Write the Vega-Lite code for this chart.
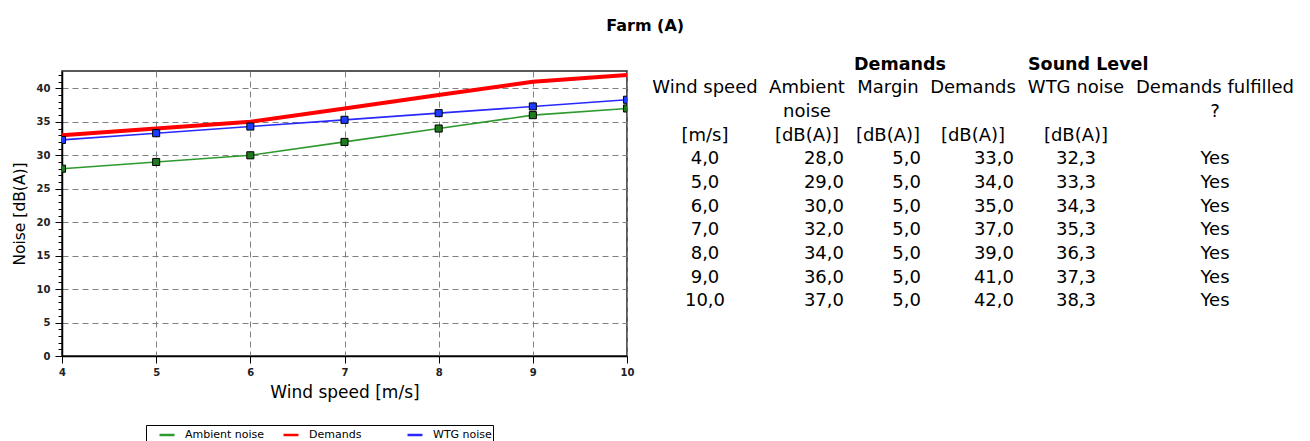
{
  "$schema": "https://vega.github.io/schema/vega-lite/v6.json",
  "padding": {"left": 11, "top": 17, "right": 5, "bottom": 0},
  "title": {"text": "Farm (A)", "font": "DejaVu Sans", "fontSize": 16, "fontWeight": "bold", "color": "black", "anchor": "middle", "offset": 22, "dx": -13},
  "config": {
    "locale": {"number": {"decimal": ",", "thousands": ".", "grouping": [3], "currency": ["", " €"]}},
    "view": {"stroke": null}
  },
  "datasets": {
    "noise": [
      {"wind": 4, "series": "Ambient noise", "noise": 28},
      {"wind": 5, "series": "Ambient noise", "noise": 29},
      {"wind": 6, "series": "Ambient noise", "noise": 30},
      {"wind": 7, "series": "Ambient noise", "noise": 32},
      {"wind": 8, "series": "Ambient noise", "noise": 34},
      {"wind": 9, "series": "Ambient noise", "noise": 36},
      {"wind": 10, "series": "Ambient noise", "noise": 37},
      {"wind": 4, "series": "Demands", "noise": 33},
      {"wind": 5, "series": "Demands", "noise": 34},
      {"wind": 6, "series": "Demands", "noise": 35},
      {"wind": 7, "series": "Demands", "noise": 37},
      {"wind": 8, "series": "Demands", "noise": 39},
      {"wind": 9, "series": "Demands", "noise": 41},
      {"wind": 10, "series": "Demands", "noise": 42},
      {"wind": 4, "series": "WTG noise", "noise": 32.3},
      {"wind": 5, "series": "WTG noise", "noise": 33.3},
      {"wind": 6, "series": "WTG noise", "noise": 34.3},
      {"wind": 7, "series": "WTG noise", "noise": 35.3},
      {"wind": 8, "series": "WTG noise", "noise": 36.3},
      {"wind": 9, "series": "WTG noise", "noise": 37.3},
      {"wind": 10, "series": "WTG noise", "noise": 38.3}
    ],
    "rows": [
      {"ws": 4, "amb": 28, "margin": 5, "dem": 33, "wtg": 32.3, "ok": "Yes"},
      {"ws": 5, "amb": 29, "margin": 5, "dem": 34, "wtg": 33.3, "ok": "Yes"},
      {"ws": 6, "amb": 30, "margin": 5, "dem": 35, "wtg": 34.3, "ok": "Yes"},
      {"ws": 7, "amb": 32, "margin": 5, "dem": 37, "wtg": 35.3, "ok": "Yes"},
      {"ws": 8, "amb": 34, "margin": 5, "dem": 39, "wtg": 36.3, "ok": "Yes"},
      {"ws": 9, "amb": 36, "margin": 5, "dem": 41, "wtg": 37.3, "ok": "Yes"},
      {"ws": 10, "amb": 37, "margin": 5, "dem": 42, "wtg": 38.3, "ok": "Yes"}
    ],
    "headers": [
      {"col": "c1", "row": "h1", "text": "Wind speed"},
      {"col": "c1", "row": "u", "text": "[m/s]"},
      {"col": "c2", "row": "h1", "text": "Ambient"},
      {"col": "c2", "row": "h2", "text": "noise"},
      {"col": "c2", "row": "u", "text": "[dB(A)]"},
      {"col": "c3", "row": "g", "text": "Demands"},
      {"col": "c3", "row": "h1", "text": "Margin"},
      {"col": "c3", "row": "u", "text": "[dB(A)]"},
      {"col": "c4", "row": "h1", "text": "Demands"},
      {"col": "c4", "row": "u", "text": "[dB(A)]"},
      {"col": "c5", "row": "g", "text": "Sound Level"},
      {"col": "c5", "row": "h1", "text": "WTG noise"},
      {"col": "c5", "row": "u", "text": "[dB(A)]"},
      {"col": "c6", "row": "h1", "text": "Demands fulfilled"},
      {"col": "c6", "row": "h2", "text": "?"}
    ]
  },
  "spacing": 17,
  "hconcat": [
    {
      "width": 565,
      "height": 285,
      "data": {"name": "noise"},
      "view": {"stroke": "#222222", "strokeWidth": 1.5},
      "encoding": {
        "x": {
          "field": "wind", "type": "quantitative",
          "scale": {"domain": [4, 10], "nice": false, "zero": false},
          "axis": {
            "values": [4, 4.25, 4.5, 4.75, 5, 5.25, 5.5, 5.75, 6, 6.25, 6.5, 6.75, 7, 7.25, 7.5, 7.75, 8, 8.25, 8.5, 8.75, 9, 9.25, 9.5, 9.75, 10],
            "format": "d",
            "title": "Wind speed [m/s]", "titleFont": "DejaVu Sans", "titleFontSize": 17, "titleFontWeight": "normal", "titleColor": "black", "titlePadding": 7,
            "labelFont": "DejaVu Sans", "labelFontSize": 10, "labelFontWeight": "bold", "labelColor": "#222222",
            "labelExpr": "datum.value % 1 === 0 ? datum.label : ''", "labelFlush": false, "labelOverlap": false, "labelPadding": 4,
            "tickSize": {"condition": {"test": "datum.value % 1 === 0", "value": 7}, "value": 4},
            "tickColor": "black",
            "grid": true,
            "gridOpacity": {"condition": {"test": "datum.value % 1 === 0", "value": 1}, "value": 0},
            "gridDash": [6, 4], "gridColor": "#808080",
            "domainColor": "black", "domainWidth": 1.5
          }
        },
        "y": {
          "field": "noise", "type": "quantitative",
          "scale": {"domain": [0, 42.6], "nice": false},
          "axis": {
            "values": [0, 1, 2, 3, 4, 5, 6, 7, 8, 9, 10, 11, 12, 13, 14, 15, 16, 17, 18, 19, 20, 21, 22, 23, 24, 25, 26, 27, 28, 29, 30, 31, 32, 33, 34, 35, 36, 37, 38, 39, 40, 41, 42],
            "format": "d",
            "title": "Noise [dB(A)]", "titleFont": "DejaVu Sans", "titleFontSize": 15.5, "titleFontWeight": "normal", "titleColor": "black", "titlePadding": 9,
            "labelFont": "DejaVu Sans", "labelFontSize": 10, "labelFontWeight": "bold", "labelColor": "#222222",
            "labelExpr": "datum.value % 5 === 0 ? datum.label : ''", "labelFlush": false, "labelOverlap": false, "labelPadding": 5,
            "tickSize": {"condition": {"test": "datum.value % 5 === 0", "value": 7}, "value": 4},
            "tickColor": "black",
            "grid": true,
            "gridOpacity": {"condition": {"test": "datum.value % 5 === 0", "value": 1}, "value": 0},
            "gridDash": [6, 4], "gridColor": "#808080",
            "domainColor": "black", "domainWidth": 1.5
          }
        }
      },
      "layer": [
        {
          "transform": [{"filter": "datum.series === 'Demands'"}],
          "mark": {"type": "line", "strokeWidth": 4, "strokeJoin": "round"},
          "encoding": {
            "color": {
              "field": "series", "type": "nominal",
              "scale": {"domain": ["Ambient noise", "Demands", "WTG noise"], "range": ["#2e9a2e", "#ff0000", "#2828ff"]},
              "legend": {
                "title": null, "orient": "none", "legendX": 84, "legendY": 354, "direction": "horizontal", "columns": 3,
                "gridAlign": "all", "columnPadding": 6, "strokeColor": "black", "padding": 1, "symbolOffset": 11,
                "labelFont": "DejaVu Sans", "labelFontSize": 11, "labelColor": "black", "labelOffset": 9,
                "symbolType": "stroke", "symbolSize": 225, "symbolStrokeWidth": 2.5
              }
            }
          }
        },
        {
          "transform": [{"filter": "datum.series !== 'Demands'"}],
          "mark": {"type": "line", "strokeWidth": 1.6, "strokeJoin": "round"},
          "encoding": {
            "color": {"field": "series", "type": "nominal"}
          }
        },
        {
          "transform": [{"filter": "datum.series !== 'Demands'"}],
          "mark": {"type": "point", "shape": "square", "filled": true, "stroke": "black", "strokeWidth": 1, "size": 50, "opacity": 1, "clip": true},
          "encoding": {
            "fill": {
              "field": "series", "type": "nominal",
              "scale": {"domain": ["Ambient noise", "WTG noise"], "range": ["#1f7a1f", "#1e3cff"]},
              "legend": null
            }
          }
        }
      ]
    },
    {
      "spacing": 0,
      "bounds": "flush",
      "hconcat": [
        {
          "width": 104, "height": 260,
          "layer": [
            {
              "data": {"name": "headers"},
              "transform": [{"filter": "datum.col === 'c1' && datum.row !== 'g'"}],
              "mark": {"type": "text", "font": "DejaVu Sans", "fontSize": 18, "color": "black", "dy": -18},
              "encoding": {"y": {"field": "row", "type": "ordinal", "scale": {"domain": ["g", "h1", "h2", "u", 4, 5, 6, 7, 8, 9, 10]}, "axis": null}, "text": {"field": "text"}}
            },
            {
              "data": {"name": "rows"},
              "mark": {"type": "text", "font": "DejaVu Sans", "fontSize": 18, "color": "black", "dy": -18},
              "encoding": {"y": {"field": "ws", "type": "ordinal", "scale": {"domain": ["g", "h1", "h2", "u", 4, 5, 6, 7, 8, 9, 10]}, "axis": null}, "text": {"field": "ws", "format": ".1f"}}
            }
          ]
        },
        {
          "width": 100, "height": 260,
          "layer": [
            {
              "data": {"name": "headers"},
              "transform": [{"filter": "datum.col === 'c2' && datum.row !== 'g'"}],
              "mark": {"type": "text", "font": "DejaVu Sans", "fontSize": 18, "color": "black", "dy": -18},
              "encoding": {"y": {"field": "row", "type": "ordinal", "scale": {"domain": ["g", "h1", "h2", "u", 4, 5, 6, 7, 8, 9, 10]}, "axis": null}, "text": {"field": "text"}}
            },
            {
              "data": {"name": "rows"},
              "mark": {"type": "text", "font": "DejaVu Sans", "fontSize": 18, "color": "black", "align": "right", "dx": 37, "dy": -18},
              "encoding": {"y": {"field": "ws", "type": "ordinal", "scale": {"domain": ["g", "h1", "h2", "u", 4, 5, 6, 7, 8, 9, 10]}, "axis": null}, "text": {"field": "amb", "format": ".1f"}}
            }
          ]
        },
        {
          "width": 62, "height": 260,
          "layer": [
            {
              "data": {"name": "headers"},
              "transform": [{"filter": "datum.col === 'c3' && datum.row === 'g'"}],
              "mark": {"type": "text", "font": "DejaVu Sans", "fontSize": 17.5, "fontWeight": "bold", "color": "black", "align": "left", "dx": -34, "dy": -18},
              "encoding": {"y": {"field": "row", "type": "ordinal", "scale": {"domain": ["g", "h1", "h2", "u", 4, 5, 6, 7, 8, 9, 10]}, "axis": null}, "text": {"field": "text"}}
            },
            {
              "data": {"name": "headers"},
              "transform": [{"filter": "datum.col === 'c3' && datum.row !== 'g'"}],
              "mark": {"type": "text", "font": "DejaVu Sans", "fontSize": 18, "color": "black", "dy": -18},
              "encoding": {"y": {"field": "row", "type": "ordinal", "scale": {"domain": ["g", "h1", "h2", "u", 4, 5, 6, 7, 8, 9, 10]}, "axis": null}, "text": {"field": "text"}}
            },
            {
              "data": {"name": "rows"},
              "mark": {"type": "text", "font": "DejaVu Sans", "fontSize": 18, "color": "black", "align": "right", "dx": 33, "dy": -18},
              "encoding": {"y": {"field": "ws", "type": "ordinal", "scale": {"domain": ["g", "h1", "h2", "u", 4, 5, 6, 7, 8, 9, 10]}, "axis": null}, "text": {"field": "margin", "format": ".1f"}}
            }
          ]
        },
        {
          "width": 108, "height": 260,
          "layer": [
            {
              "data": {"name": "headers"},
              "transform": [{"filter": "datum.col === 'c4' && datum.row !== 'g'"}],
              "mark": {"type": "text", "font": "DejaVu Sans", "fontSize": 18, "color": "black", "dy": -18},
              "encoding": {"y": {"field": "row", "type": "ordinal", "scale": {"domain": ["g", "h1", "h2", "u", 4, 5, 6, 7, 8, 9, 10]}, "axis": null}, "text": {"field": "text"}}
            },
            {
              "data": {"name": "rows"},
              "mark": {"type": "text", "font": "DejaVu Sans", "fontSize": 18, "color": "black", "align": "right", "dx": 41, "dy": -18},
              "encoding": {"y": {"field": "ws", "type": "ordinal", "scale": {"domain": ["g", "h1", "h2", "u", 4, 5, 6, 7, 8, 9, 10]}, "axis": null}, "text": {"field": "dem", "format": ".1f"}}
            }
          ]
        },
        {
          "width": 98, "height": 260,
          "layer": [
            {
              "data": {"name": "headers"},
              "transform": [{"filter": "datum.col === 'c5' && datum.row === 'g'"}],
              "mark": {"type": "text", "font": "DejaVu Sans", "fontSize": 17.5, "fontWeight": "bold", "color": "black", "align": "left", "dx": -48, "dy": -18},
              "encoding": {"y": {"field": "row", "type": "ordinal", "scale": {"domain": ["g", "h1", "h2", "u", 4, 5, 6, 7, 8, 9, 10]}, "axis": null}, "text": {"field": "text"}}
            },
            {
              "data": {"name": "headers"},
              "transform": [{"filter": "datum.col === 'c5' && datum.row !== 'g'"}],
              "mark": {"type": "text", "font": "DejaVu Sans", "fontSize": 18, "color": "black", "dy": -18},
              "encoding": {"y": {"field": "row", "type": "ordinal", "scale": {"domain": ["g", "h1", "h2", "u", 4, 5, 6, 7, 8, 9, 10]}, "axis": null}, "text": {"field": "text"}}
            },
            {
              "data": {"name": "rows"},
              "mark": {"type": "text", "font": "DejaVu Sans", "fontSize": 18, "color": "black", "dy": -18},
              "encoding": {"y": {"field": "ws", "type": "ordinal", "scale": {"domain": ["g", "h1", "h2", "u", 4, 5, 6, 7, 8, 9, 10]}, "axis": null}, "text": {"field": "wtg", "format": ".1f"}}
            }
          ]
        },
        {
          "width": 180, "height": 260,
          "layer": [
            {
              "data": {"name": "headers"},
              "transform": [{"filter": "datum.col === 'c6' && datum.row !== 'g'"}],
              "mark": {"type": "text", "font": "DejaVu Sans", "fontSize": 18, "color": "black", "dy": -18},
              "encoding": {"y": {"field": "row", "type": "ordinal", "scale": {"domain": ["g", "h1", "h2", "u", 4, 5, 6, 7, 8, 9, 10]}, "axis": null}, "text": {"field": "text"}}
            },
            {
              "data": {"name": "rows"},
              "mark": {"type": "text", "font": "DejaVu Sans", "fontSize": 18, "color": "black", "dy": -18},
              "encoding": {"y": {"field": "ws", "type": "ordinal", "scale": {"domain": ["g", "h1", "h2", "u", 4, 5, 6, 7, 8, 9, 10]}, "axis": null}, "text": {"field": "ok"}}
            }
          ]
        }
      ]
    }
  ]
}
